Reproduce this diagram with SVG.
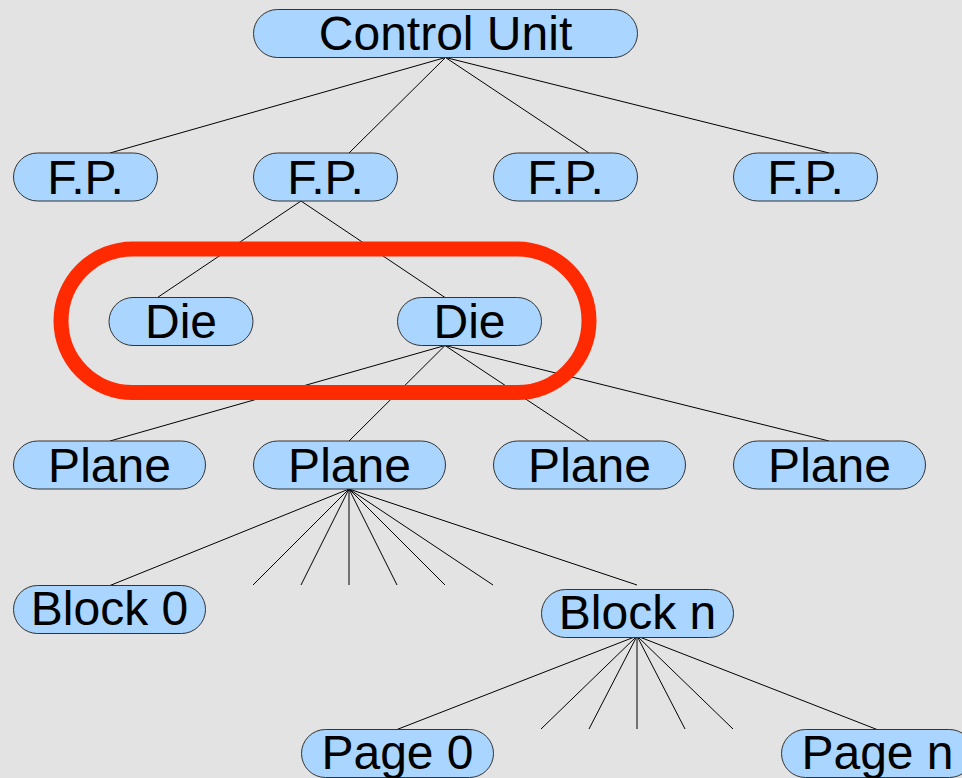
<svg xmlns="http://www.w3.org/2000/svg" width="962" height="778" viewBox="0 0 962 778">
  <style>
    .pill { fill: #a9d5fe; stroke: #333333; stroke-width: 1; }
    .lbl { font-family: "Liberation Sans", Arial, sans-serif; font-size: 48px; fill: #000000; text-anchor: middle; }
    .edge { stroke: #000000; stroke-width: 1; fill: none; }
    .ring { fill: none; stroke: #ff2a00; stroke-width: 15; }
  </style>
  <rect x="0" y="0" width="962" height="778" fill="#e3e3e3"/>

  <!-- connectors -->
  <g id="connectors">
    <!-- Control Unit to flash packages -->
    <line class="edge" x1="445.5" y1="57.5" x2="110" y2="153"/>
    <line class="edge" x1="445.5" y1="57.5" x2="349" y2="153"/>
    <line class="edge" x1="445.5" y1="57.5" x2="589" y2="153"/>
    <line class="edge" x1="445.5" y1="57.5" x2="829" y2="153"/>
    <!-- F.P. to dies -->
    <line class="edge" x1="301" y1="201" x2="157.5" y2="297.5"/>
    <line class="edge" x1="301" y1="201" x2="445" y2="297.5"/>
    <!-- Die to planes -->
    <line class="edge" x1="445" y1="345.5" x2="110" y2="441"/>
    <line class="edge" x1="445" y1="345.5" x2="349" y2="441"/>
    <line class="edge" x1="445" y1="345.5" x2="589" y2="441"/>
    <line class="edge" x1="445" y1="345.5" x2="829" y2="441"/>
    <!-- Plane to blocks -->
    <line class="edge" x1="349" y1="489" x2="110" y2="585.5"/>
    <line class="edge" x1="349" y1="489" x2="253" y2="585"/>
    <line class="edge" x1="349" y1="489" x2="301" y2="585"/>
    <line class="edge" x1="349" y1="489" x2="349" y2="585"/>
    <line class="edge" x1="349" y1="489" x2="397" y2="585"/>
    <line class="edge" x1="349" y1="489" x2="445" y2="585"/>
    <line class="edge" x1="349" y1="489" x2="493" y2="585"/>
    <line class="edge" x1="349" y1="489" x2="637" y2="585"/>
    <!-- Block to pages -->
    <line class="edge" x1="637" y1="636" x2="397" y2="729.5"/>
    <line class="edge" x1="637" y1="636" x2="541" y2="729"/>
    <line class="edge" x1="637" y1="636" x2="589" y2="729"/>
    <line class="edge" x1="637" y1="636" x2="637" y2="729"/>
    <line class="edge" x1="637" y1="636" x2="685" y2="729"/>
    <line class="edge" x1="637" y1="636" x2="733" y2="729"/>
    <line class="edge" x1="637" y1="636" x2="877" y2="729.5"/>
  </g>

  <!-- nodes -->
  <g id="control-unit">
    <rect class="pill" x="253.5" y="9.5" width="384" height="48" rx="24"/>
    <text class="lbl" x="445.5" y="49.5">Control Unit</text>
  </g>

  <g id="fp-1">
    <rect class="pill" x="13.5" y="153" width="144" height="48" rx="24"/>
    <text class="lbl" x="85.5" y="193.5">F.P.</text>
  </g>
  <g id="fp-2">
    <rect class="pill" x="253.5" y="153" width="144" height="48" rx="24"/>
    <text class="lbl" x="325.5" y="193.5">F.P.</text>
  </g>
  <g id="fp-3">
    <rect class="pill" x="493.5" y="153" width="144" height="48" rx="24"/>
    <text class="lbl" x="565.5" y="193.5">F.P.</text>
  </g>
  <g id="fp-4">
    <rect class="pill" x="733.5" y="153" width="144" height="48" rx="24"/>
    <text class="lbl" x="805.5" y="193.5">F.P.</text>
  </g>

  <g id="die-1">
    <rect class="pill" x="109" y="297.5" width="144" height="48" rx="24"/>
    <text class="lbl" x="181" y="337.8">Die</text>
  </g>
  <g id="die-2">
    <rect class="pill" x="397.5" y="297.5" width="144" height="48" rx="24"/>
    <text class="lbl" x="469.5" y="337.8">Die</text>
  </g>

  <g id="plane-1">
    <rect class="pill" x="13.5" y="441" width="192" height="48" rx="24"/>
    <text class="lbl" x="109.5" y="481.7">Plane</text>
  </g>
  <g id="plane-2">
    <rect class="pill" x="253.5" y="441" width="192" height="48" rx="24"/>
    <text class="lbl" x="349.5" y="481.7">Plane</text>
  </g>
  <g id="plane-3">
    <rect class="pill" x="493.5" y="441" width="192" height="48" rx="24"/>
    <text class="lbl" x="589.5" y="481.7">Plane</text>
  </g>
  <g id="plane-4">
    <rect class="pill" x="733.5" y="441" width="192" height="48" rx="24"/>
    <text class="lbl" x="829.5" y="481.7">Plane</text>
  </g>

  <g id="block-0">
    <rect class="pill" x="13.5" y="585.5" width="192" height="48" rx="24"/>
    <text class="lbl" x="109.5" y="624.5">Block 0</text>
  </g>
  <g id="block-n">
    <rect class="pill" x="541.5" y="589.5" width="192" height="48" rx="24"/>
    <text class="lbl" x="637.5" y="628.5">Block n</text>
  </g>

  <g id="page-0">
    <rect class="pill" x="301.5" y="729.5" width="192" height="48" rx="24"/>
    <text class="lbl" x="397.5" y="768.5">Page 0</text>
  </g>
  <g id="page-n">
    <rect class="pill" x="781.5" y="729.5" width="192" height="48" rx="24"/>
    <text class="lbl" x="877.5" y="768.5">Page n</text>
  </g>

  <!-- highlight around the dies -->
  <rect class="ring" x="61" y="249" width="528" height="143.5" rx="71.75"/>
</svg>
